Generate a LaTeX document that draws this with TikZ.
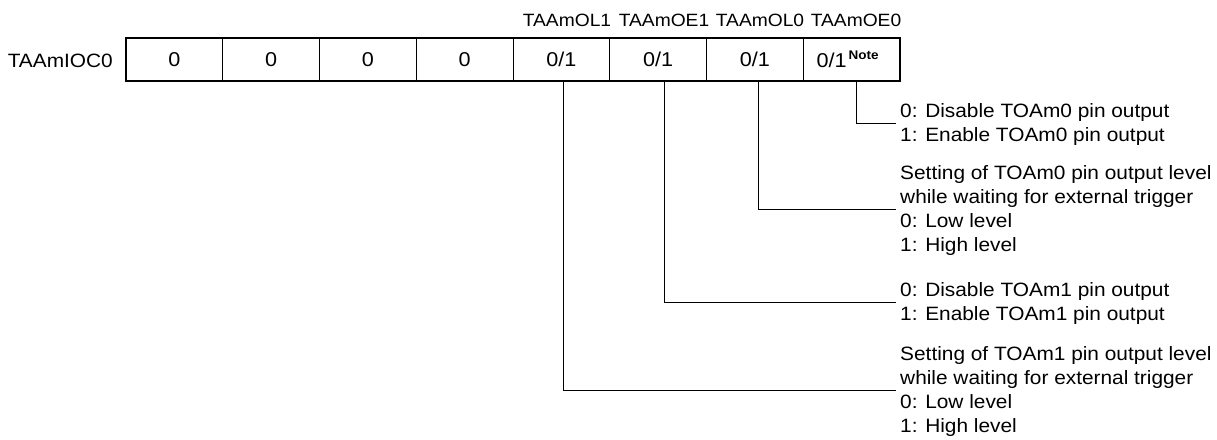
\documentclass[tikz,border=0pt]{standalone}
\usepackage{fontspec}
\setmainfont{Liberation Sans}[FakeStretch=1.08]
\newcommand{\txtfont}{\fontsize{19.3}{24}\selectfont}
\newcommand{\lblfont}{\fontsize{17.8}{20}\selectfont}
\newcommand{\cellfont}{\fontsize{20}{20}\selectfont}
\newcommand{\notefont}{\fontsize{12.5}{12}\selectfont\bfseries}
\begin{document}
\begin{tikzpicture}[x=1pt,y=-1pt,
  cell/.style={draw, line width=0.8pt, minimum width=96.75pt, minimum height=42.4pt, inner sep=0pt, font=\cellfont, anchor=center},
  lbl/.style={font=\lblfont, anchor=base, inner sep=0pt},
  txt/.style={font=\txtfont, anchor=base west, inner sep=0pt},
  conn/.style={line width=0.9pt}]
\useasboundingbox (0,0) rectangle (1217,439);
% register cells
\foreach \i/\v in {0/0,1/0,2/0,3/0,4/0\slash 1,5/0\slash 1,6/0\slash 1}
  \node[cell] (c\i) at ({126+96.75*(\i+0.5)},59.5) {\v};
\node[cell] (c7) at ({126+96.75*7.5},59.5) {\hspace*{-8pt}0/1\raisebox{7.5pt}{\notefont\,Note}};
\draw[line width=2pt] (c0.north west) rectangle (c7.south east);
\node[font=\txtfont, anchor=base east, inner sep=0pt] (reg) at (113,67) {TAAmIOC0};
% bit names
\node[lbl] (n4) at (567,26) {TAAmOL1};
\node[lbl] (n5) at (664,26) {TAAmOE1};
\node[lbl] (n6) at (760,26) {TAAmOL0};
\node[lbl] (n7) at (856,26) {TAAmOE0};
% descriptions
\node[txt] (a1) at (900,117.5) {0: Disable TOAm0 pin output};
\node[txt] (a2) at (900,141.5) {1: Enable TOAm0 pin output};
\node[txt] (b1) at (900,179.5) {Setting of TOAm0 pin output level};
\node[txt] (b2) at (900,203.5) {while waiting for external trigger};
\node[txt] (b3) at (900,227.5) {0: Low level};
\node[txt] (b4) at (900,251.5) {1: High level};
\node[txt] (d1) at (900,296.5) {0: Disable TOAm1 pin output};
\node[txt] (d2) at (900,320.5) {1: Enable TOAm1 pin output};
\node[txt] (f1) at (900,360.5) {Setting of TOAm1 pin output level};
\node[txt] (f2) at (900,384.5) {while waiting for external trigger};
\node[txt] (f3) at (900,408.5) {0: Low level};
\node[txt] (f4) at (900,432.5) {1: High level};
% connectors
\coordinate (e7) at (896,123);
\coordinate (e6) at (896,209);
\coordinate (e5) at (896,302);
\coordinate (e4) at (896,390);
\draw[conn] ([xshift=5pt]c7.south) |- (e7);
\draw[conn] ([xshift=4pt]c6.south) |- (e6);
\draw[conn] ([xshift=6pt]c5.south) |- (e5);
\draw[conn] ([xshift=1.6pt]c4.south) |- (e4);
\end{tikzpicture}
\end{document}
